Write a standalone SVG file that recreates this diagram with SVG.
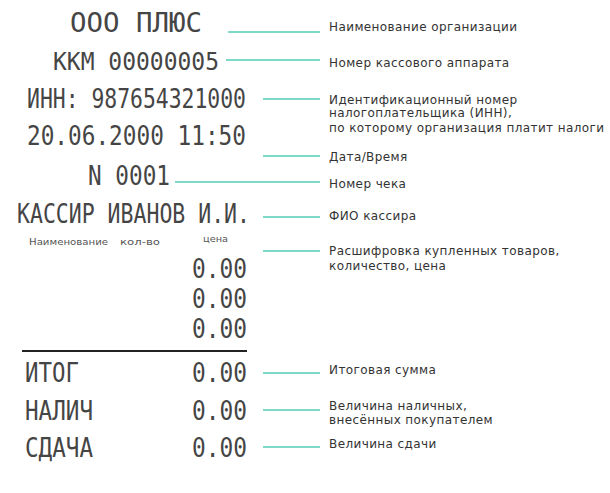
<svg xmlns="http://www.w3.org/2000/svg" width="610" height="493" viewBox="0 0 610 493">
<style>
.r{font-family:"DejaVu Sans Mono","Liberation Mono",monospace;font-size:27px;fill:#454545}
.h{font-family:"DejaVu Sans","Liberation Sans",sans-serif;font-size:8px;fill:#555}
.l{font-family:"DejaVu Sans","Liberation Sans",sans-serif;font-size:12px;letter-spacing:0.4px;fill:#333}
.c{stroke:#7fd9c9;stroke-width:2;fill:none}
</style>
<rect width="610" height="493" fill="#fff"/>
<g id="receipt">
<text class="r" x="70" y="32" textLength="132" lengthAdjust="spacingAndGlyphs">ООО ПЛЮС</text>
<text class="r" x="53" y="70" style="font-size:25px" textLength="166" lengthAdjust="spacingAndGlyphs">ККМ 00000005</text>
<text class="r" x="27" y="108" textLength="219" lengthAdjust="spacingAndGlyphs">ИНН: 987654321000</text>
<text class="r" x="27" y="145" textLength="219" lengthAdjust="spacingAndGlyphs">20.06.2000 11:50</text>
<text class="r" x="88" y="185" textLength="82" lengthAdjust="spacingAndGlyphs">N 0001</text>
<text class="r" x="17" y="223" textLength="233" lengthAdjust="spacingAndGlyphs">КАССИР ИВАНОВ И.И.</text>
<text class="h" x="29" y="245" textLength="79" lengthAdjust="spacingAndGlyphs">Наименование</text>
<text class="h" x="120" y="245" textLength="40" lengthAdjust="spacingAndGlyphs">кол-во</text>
<text class="h" x="203" y="242" textLength="25" lengthAdjust="spacingAndGlyphs">цена</text>
<text class="r" x="192" y="278" textLength="55" lengthAdjust="spacingAndGlyphs">0.00</text>
<text class="r" x="192" y="308" textLength="55" lengthAdjust="spacingAndGlyphs">0.00</text>
<text class="r" x="192" y="338" textLength="55" lengthAdjust="spacingAndGlyphs">0.00</text>
<line x1="22" y1="351" x2="247" y2="351" stroke="#222" stroke-width="2"/>
<text class="r" x="25" y="382" textLength="54" lengthAdjust="spacingAndGlyphs">ИТОГ</text>
<text class="r" x="192" y="382" textLength="55" lengthAdjust="spacingAndGlyphs">0.00</text>
<text class="r" x="25" y="420" textLength="68" lengthAdjust="spacingAndGlyphs">НАЛИЧ</text>
<text class="r" x="192" y="420" textLength="55" lengthAdjust="spacingAndGlyphs">0.00</text>
<text class="r" x="25" y="457" textLength="68" lengthAdjust="spacingAndGlyphs">СДАЧА</text>
<text class="r" x="192" y="457" textLength="55" lengthAdjust="spacingAndGlyphs">0.00</text>
</g>
<g id="connectors">
<line class="c" x1="228" y1="32" x2="320" y2="32"/>
<line class="c" x1="226" y1="60" x2="320" y2="60"/>
<line class="c" x1="263" y1="99" x2="320" y2="99"/>
<line class="c" x1="263" y1="156" x2="320" y2="156"/>
<line class="c" x1="175" y1="182" x2="320" y2="182"/>
<line class="c" x1="263" y1="217" x2="320" y2="217"/>
<line class="c" x1="263" y1="251" x2="320" y2="251"/>
<line class="c" x1="263" y1="373" x2="320" y2="373"/>
<line class="c" x1="263" y1="410" x2="320" y2="410"/>
<line class="c" x1="263" y1="447" x2="320" y2="447"/>
</g>
<g id="label-org"><text class="l" x="329" y="31">Наименование организации</text></g>
<g id="label-kkm"><text class="l" x="329" y="67">Номер кассового аппарата</text></g>
<g id="label-inn"><text class="l" x="329" y="104">Идентификационный номер</text><text class="l" x="329" y="117">налогоплательщика (ИНН),</text><text class="l" x="329" y="132">по которому организация платит налоги</text></g>
<g id="label-date"><text class="l" x="329" y="161">Дата/Время</text></g>
<g id="label-num"><text class="l" x="329" y="188">Номер чека</text></g>
<g id="label-cashier"><text class="l" x="329" y="220">ФИО кассира</text></g>
<g id="label-items"><text class="l" x="329" y="255">Расшифровка купленных товаров,</text><text class="l" x="329" y="270">количество, цена</text></g>
<g id="label-total"><text class="l" x="329" y="374">Итоговая сумма</text></g>
<g id="label-cash"><text class="l" x="329" y="410">Величина наличных,</text><text class="l" x="329" y="424">внесённых покупателем</text></g>
<g id="label-change"><text class="l" x="329" y="448">Величина сдачи</text></g>
</svg>
